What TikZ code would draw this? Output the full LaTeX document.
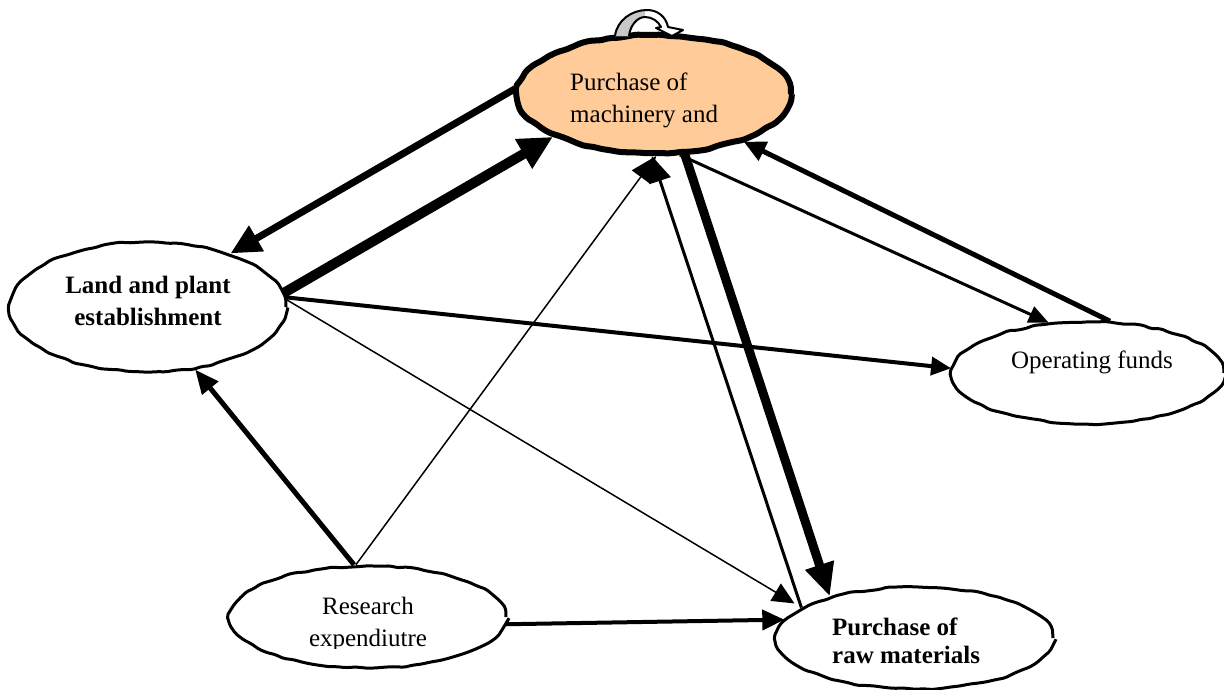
\documentclass[tikz,border=0pt]{standalone}
\usepackage{fontspec}
\setmainfont{Liberation Serif}
\usetikzlibrary{shapes.geometric,arrows.meta,decorations.pathmorphing}
\definecolor{peach}{RGB}{255,204,153}
\definecolor{loopgray}{RGB}{200,200,200}
\begin{document}
\begin{tikzpicture}[x=1pt,y=-1pt,
  blob/.style={ellipse, draw, line width=3pt, inner sep=0pt,
    decorate, decoration={random steps, segment length=9pt, amplitude=1pt},
    rounded corners=2pt},
  lbl/.style={font=\fontsize{25}{32}\selectfont, inner sep=0pt},
  lblb/.style={font=\fontsize{25}{32}\selectfont\bfseries, inner sep=0pt},
  conn/.style={line cap=butt}]
\pgfmathsetseed{7}
\useasboundingbox (0,0) rectangle (1224,689);

% nodes
\node[blob, fill=peach, line width=6pt, minimum width=274pt, minimum height=118pt] (mach) at (654,94) {};
\node[blob, fill=white, minimum width=276pt, minimum height=130pt] (land) at (148,307) {};
\node[blob, fill=white, minimum width=272pt, minimum height=102pt] (oper) at (1088,373) {};
\node[blob, fill=white, minimum width=276pt, minimum height=102pt] (res) at (368,617) {};
\node[blob, fill=white, minimum width=276pt, minimum height=102pt] (raw) at (915,638) {};

% texts (base anchor = baseline of the last line)
\node[lbl, align=left, anchor=base west] (machT) at (570,122) {Purchase of\\machinery and};
\node[lblb, align=center, anchor=base] (landT) at (148,325) {Land and plant\\establishment};
\node[lbl, anchor=base] (operT) at (1092,368) {Operating funds};
\begin{scope}
  \clip (220,560) rectangle (520,648);
  \node[lbl, align=center, anchor=base] (resT) at (368,646) {Research\\expendiutre};
\end{scope}
\node[font=\fontsize{25}{28}\selectfont\bfseries, inner sep=0pt, align=left, anchor=base west] (rawT) at (832,663) {Purchase of\\raw materials};

% self loop on the top node
\begin{scope}
  \path[fill=white] (615,36) .. controls (617,20) and (632,10) .. (647,10)
     .. controls (658,10) and (666,17) .. (668,27) -- (683,30) -- (672,36) -- (656,28) -- (661,27)
     .. controls (658,21) and (652,17) .. (645,17) .. controls (637,17) and (630,26) .. (629,36) -- cycle;
  \begin{scope}
    \clip (600,0) rectangle (645,40);
    \path[fill=loopgray] (615,36) .. controls (617,20) and (632,10) .. (647,10)
     -- (645,17) .. controls (637,17) and (630,26) .. (629,36) -- cycle;
  \end{scope}
  \draw[line width=2pt, line join=round] (615,36) .. controls (617,20) and (632,10) .. (647,10)
     .. controls (658,10) and (666,17) .. (668,27) -- (683,30) -- (672,36) -- (656,28) -- (661,27)
     .. controls (658,21) and (652,17) .. (645,17) .. controls (637,17) and (630,26) .. (629,36);
\end{scope}

% connectors
\draw[conn, line width=7pt, -{Triangle[length=30pt,width=28pt]}] (mach.178) -- (land.33);
\draw[conn, line width=10pt, -{Triangle[length=34pt,width=32pt]}] (land.6) -- (mach.203);
\draw[conn, line width=4pt, -{Triangle[length=20pt,width=18pt]}] (land.4) -- (oper.178);
\draw[conn, line width=1.5pt, -{Triangle[length=22pt,width=20pt]}, shorten >=8pt] (land.3) -- (raw.165);
\draw[conn, line width=5pt, -{Triangle[length=24pt,width=20pt]}] (res.105) -- (land.307);
\draw[conn, line width=1.5pt, -{Triangle[length=26pt,width=22pt]}] (res.103) -- (mach.272);
\draw[conn, line width=9pt, -{Triangle[length=33pt,width=28pt]}] (mach.297) -- (raw.154);
\draw[conn, line width=3pt, -{Triangle[length=26pt,width=22pt]}] (raw.165) -- (mach.268);
\draw[conn, line width=3pt, -{Triangle[length=20pt,width=17pt]}] (mach.293) -- (oper.128);
\draw[conn, line width=5pt, -{Triangle[length=22pt,width=20pt]}] (oper.67) -- (mach.332);
\draw[conn, line width=4pt, -{Triangle[length=22pt,width=20pt]}] (res.357) -- (raw.172);
\end{tikzpicture}
\end{document}
